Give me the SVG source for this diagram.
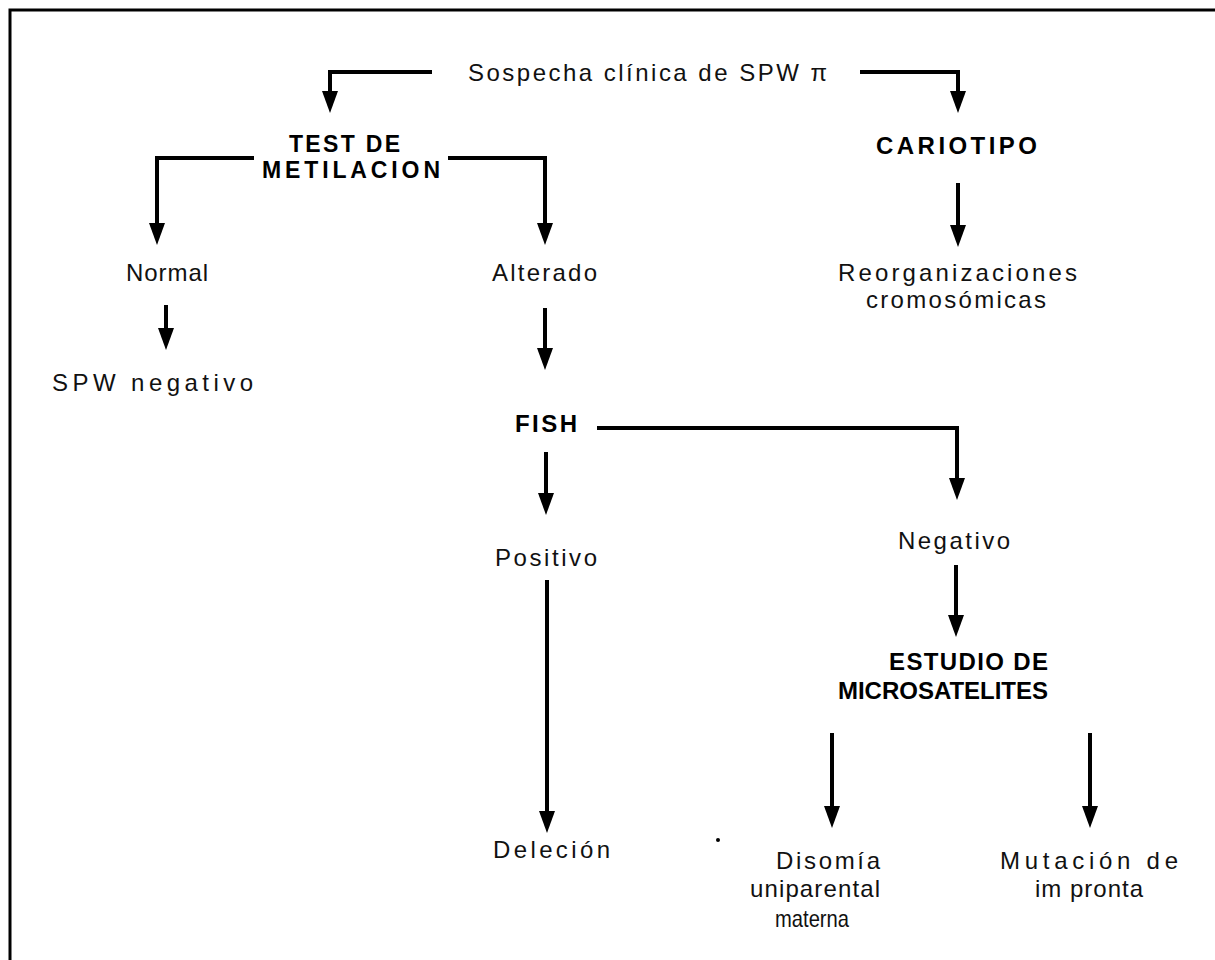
<svg xmlns="http://www.w3.org/2000/svg" width="1215" height="960" viewBox="0 0 1215 960">
<defs>
<style>
.t{font-family:"Liberation Sans",Arial,sans-serif;font-size:24px;fill:#111}
.b{font-family:"Liberation Sans",Arial,sans-serif;font-size:24px;font-weight:bold;fill:#000}
.b2{font-family:"Liberation Sans",Arial,sans-serif;font-size:23px;font-weight:bold;fill:#000}
.c{fill:none;stroke:#000;stroke-width:4}
</style>
<marker id="ah" viewBox="0 0 22 16" refX="13" refY="8" markerWidth="22" markerHeight="16" markerUnits="userSpaceOnUse" orient="auto">
<path d="M0,0 L22,8 L0,16 Z" fill="#000"/>
</marker>
</defs>
<rect width="1215" height="960" fill="#fff"/>
<path d="M10,960 V10 H1215" fill="none" stroke="#000" stroke-width="3"/>
<g id="connectors">
<path class="c" d="M432,72 H330 V104" marker-end="url(#ah)"/>
<path class="c" d="M860,72 H958 V104" marker-end="url(#ah)"/>
<path class="c" d="M254,158 H157 V236" marker-end="url(#ah)"/>
<path class="c" d="M448,158 H545 V236" marker-end="url(#ah)"/>
<path class="c" d="M958,183 V238" marker-end="url(#ah)"/>
<path class="c" d="M166,305 V341" marker-end="url(#ah)"/>
<path class="c" d="M545,308 V361" marker-end="url(#ah)"/>
<path class="c" d="M597,428 H957 V491" marker-end="url(#ah)"/>
<path class="c" d="M546,452 V506" marker-end="url(#ah)"/>
<path class="c" d="M547,580 V824" marker-end="url(#ah)"/>
<path class="c" d="M956,565 V628" marker-end="url(#ah)"/>
<path class="c" d="M832,733 V819" marker-end="url(#ah)"/>
<path class="c" d="M1090,733 V819" marker-end="url(#ah)"/>
</g>
<g id="n-sospecha"><text class="t" x="468" y="81" textLength="359" lengthAdjust="spacing">Sospecha clínica de SPW π</text></g>
<g id="n-test"><text class="b2" x="289" y="152" textLength="111" lengthAdjust="spacing">TEST DE</text><text class="b2" x="262" y="178" textLength="178" lengthAdjust="spacing">METILACION</text></g>
<g id="n-cariotipo"><text class="b" x="876" y="154" textLength="161" lengthAdjust="spacing">CARIOTIPO</text></g>
<g id="n-reorg"><text class="t" x="838" y="281" textLength="239" lengthAdjust="spacing">Reorganizaciones</text><text class="t" x="866" y="308" textLength="180" lengthAdjust="spacing">cromosómicas</text></g>
<g id="n-normal"><text class="t" x="126" y="281" textLength="82" lengthAdjust="spacing">Normal</text></g>
<g id="n-spwneg"><text class="t" x="52" y="391" textLength="201" lengthAdjust="spacing">SPW negativo</text></g>
<g id="n-alterado"><text class="t" x="492" y="281" textLength="105" lengthAdjust="spacing">Alterado</text></g>
<g id="n-fish"><text class="b" x="515" y="432" textLength="62" lengthAdjust="spacing">FISH</text></g>
<g id="n-positivo"><text class="t" x="495" y="566" textLength="102" lengthAdjust="spacing">Positivo</text></g>
<g id="n-delecion"><text class="t" x="493" y="858" textLength="117" lengthAdjust="spacing">Deleción</text></g>
<g id="n-negativo"><text class="t" x="898" y="549" textLength="112" lengthAdjust="spacing">Negativo</text></g>
<g id="n-estudio"><text class="b" x="889" y="670" textLength="159" lengthAdjust="spacing">ESTUDIO DE</text><text class="b" x="838" y="699" textLength="210" lengthAdjust="spacing">MICROSATELITES</text></g>
<g id="n-disomia"><text class="t" x="776" y="869" textLength="104" lengthAdjust="spacing">Disomía</text><text class="t" x="750" y="897" textLength="130" lengthAdjust="spacing">uniparental</text><text class="t" x="775" y="927" textLength="74" lengthAdjust="spacingAndGlyphs">materna</text></g>
<g id="n-mutacion"><text class="t" x="1000" y="869" textLength="178" lengthAdjust="spacing">Mutación de</text><text class="t" x="1035" y="897" textLength="108" lengthAdjust="spacing">im pronta</text></g>
<circle cx="718" cy="840" r="2" fill="#000"/>
</svg>
